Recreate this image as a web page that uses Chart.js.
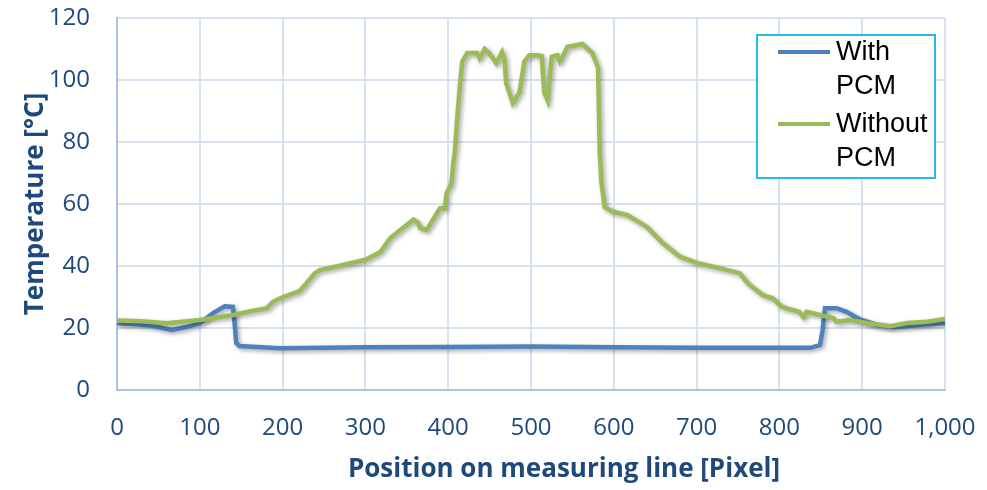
<!DOCTYPE html>
<html>
<head>
<meta charset="utf-8">
<script src="https://cdn.jsdelivr.net/npm/chart.js@4"></script>
<style>
  html, body { margin: 0; padding: 0; background: #fff; }
  #wrap { width: 987px; height: 490px; }
</style>
</head>
<body>
<div id="wrap"><canvas id="tempChart"></canvas></div>
<script>
const seriesNames = ['With PCM', 'Without PCM'];
const xTitle = 'Position on measuring line [Pixel]';
const yTitle = 'Temperature [°C]';

const withPcmX = [0, 20, 40, 66, 84, 100, 116, 130, 140, 142, 144, 148, 197, 300, 400, 500, 600, 700, 800, 837, 849, 852, 855, 869, 881, 897, 918, 937, 954, 975, 1000];
const withPcmY = [21.5, 21.3, 20.8, 19.4, 20.3, 21.6, 24.8, 27, 26.8, 21.6, 15.2, 14.2, 13.5, 13.8, 13.9, 14, 13.8, 13.6, 13.6, 13.6, 14.5, 19, 26.4, 26.4, 25.2, 22.8, 21, 20.3, 20.6, 21.1, 21.6];

const withoutPcmX = [0, 30, 60, 100, 140, 157, 181, 188, 197, 221, 239, 245, 273, 300, 318, 330, 358, 364, 366, 374, 390, 396, 398, 404, 406, 408, 411, 414, 417, 423, 435, 438, 444, 450, 458, 465, 468, 470, 478, 486, 492, 498, 508, 513, 516, 520, 525, 532, 535, 544, 562, 574, 581, 583, 585, 589, 599, 616, 640, 659, 680, 700, 728, 752, 760, 764, 780, 792, 803, 824, 829, 833, 849, 865, 869, 885, 913, 934, 954, 978, 1000];
const withoutPcmY = [22.4, 22.2, 21.5, 22.6, 24.2, 25.2, 26.4, 28.4, 29.6, 32, 37.7, 38.7, 40.3, 42, 44.5, 49, 55, 53.8, 52.3, 51.6, 58.6, 58.6, 63.5, 66.7, 73, 77, 88, 98, 106, 108.7, 108.7, 107, 110, 108.5, 105.5, 109, 106.5, 99, 92.6, 96, 106, 108, 108, 107.7, 96, 93.5, 107.5, 108, 106, 110.7, 111.6, 108.7, 104, 77, 67, 59, 57.5, 56.5, 52.6, 47.4, 43, 41, 39.3, 37.7, 35, 33.9, 30.6, 29.6, 26.8, 25.2, 23.5, 25.2, 24.2, 23.2, 22, 22.6, 21.3, 20.6, 21.6, 22, 22.9];

const xTicks = [0, 100, 200, 300, 400, 500, 600, 700, 800, 900, 1000];
const yTicks = [0, 20, 40, 60, 80, 100, 120];

const toPoints = (xs, ys) => xs.map((x, i) => ({ x: x, y: ys[i] }));

const axisColor = '#1f497d';
const gridColor = '#d7e2f1';

// soft drop shadow under the lines, like the office chart
const shadowPlugin = {
  id: 'lineShadow',
  beforeDatasetDraw(chart) {
    const ctx = chart.ctx;
    ctx.save();
    ctx.shadowColor = 'rgba(0,0,0,0.35)';
    ctx.shadowBlur = 4;
    ctx.shadowOffsetX = 2;
    ctx.shadowOffsetY = 2;
  },
  afterDatasetDraw(chart) {
    chart.ctx.restore();
  }
};

// x title sits a bit right of the plot centre in the original
const xTitlePlugin = {
  id: 'xTitle',
  afterDraw(chart) {
    const ctx = chart.ctx;
    const area = chart.chartArea;
    ctx.save();
    ctx.font = 'bold 26px "Open Sans", sans-serif';
    ctx.fillStyle = axisColor;
    ctx.textAlign = 'center';
    ctx.textBaseline = 'middle';
    ctx.fillText(xTitle, (area.left + area.right) / 2 + 33, area.bottom + 80);
    ctx.restore();
  }
};

// boxed legend with wrapped labels
const boxLegend = {
  id: 'boxLegend',
  afterDraw(chart) {
    const ctx = chart.ctx;
    const box = { x: 757, y: 35, w: 178, h: 143 };
    ctx.save();
    ctx.fillStyle = '#fff';
    ctx.fillRect(box.x, box.y, box.w, box.h);
    ctx.strokeStyle = '#2bb8e3';
    ctx.lineWidth = 2;
    ctx.strokeRect(box.x, box.y, box.w, box.h);
    ctx.font = '27px "Liberation Sans", Arial, sans-serif';
    ctx.textBaseline = 'middle';
    ctx.fillStyle = '#000';
    let y = 53;
    chart.data.datasets.forEach(ds => {
      ctx.strokeStyle = ds.borderColor;
      ctx.lineWidth = 4;
      ctx.beginPath();
      ctx.moveTo(778, y - 1);
      ctx.lineTo(830, y - 1);
      ctx.stroke();
      ds.label.split(' ').forEach((word, i) => {
        ctx.fillText(word, 836, y + i * 34);
      });
      y += 72;
    });
    ctx.restore();
  }
};

new Chart(document.getElementById('tempChart').getContext('2d'), {
  type: 'line',
  data: {
    datasets: [{
      label: seriesNames[0],
      data: toPoints(withPcmX, withPcmY),
      borderColor: '#4f81bd',
      borderWidth: 4.5,
      pointRadius: 0,
      tension: 0,
      fill: false,
      order: 1
    }, {
      label: seriesNames[1],
      data: toPoints(withoutPcmX, withoutPcmY),
      borderColor: '#9bbb59',
      borderWidth: 4.5,
      pointRadius: 0,
      tension: 0,
      fill: false,
      order: 0
    }]
  },
  plugins: [shadowPlugin, xTitlePlugin, boxLegend],
  options: {
    responsive: true,
    maintainAspectRatio: false,
    animation: false,
    layout: { padding: { top: 18, right: 42, bottom: 0, left: 0 } },
    plugins: {
      legend: { display: false },
      tooltip: { enabled: false }
    },
    scales: {
      x: {
        type: 'linear',
        min: 0,
        max: 1000,
        afterBuildTicks: scale => { scale.ticks = xTicks.map(v => ({ value: v })); },
        afterFit: scale => { scale.height = 100; },
        // invisible tick marks used as label spacing
        grid: { color: gridColor, lineWidth: 2, drawTicks: true, tickLength: 24, tickColor: 'rgba(0,0,0,0)' },
        border: { color: '#a9c3e6', width: 2 },
        ticks: {
          color: axisColor,
          padding: 0,
          maxRotation: 0,
          font: { family: '"Open Sans", sans-serif', size: 24 },
          callback: v => v.toLocaleString('en-US')
        }
      },
      y: {
        min: 0,
        max: 120,
        afterBuildTicks: scale => { scale.ticks = yTicks.map(v => ({ value: v })); },
        afterFit: scale => { scale.width = 117; },
        grid: { color: gridColor, lineWidth: 2, drawTicks: true, tickLength: 27, tickColor: 'rgba(0,0,0,0)' },
        border: { color: '#a9c3e6', width: 2 },
        ticks: {
          color: axisColor,
          padding: 0,
          font: { family: '"Open Sans", sans-serif', size: 24 }
        },
        title: {
          display: true,
          text: yTitle,
          color: axisColor,
          padding: { top: 20, bottom: 0 },
          font: { family: '"Open Sans", sans-serif', size: 26, weight: 'bold' }
        }
      }
    }
  }
});
</script>
</body>
</html>
